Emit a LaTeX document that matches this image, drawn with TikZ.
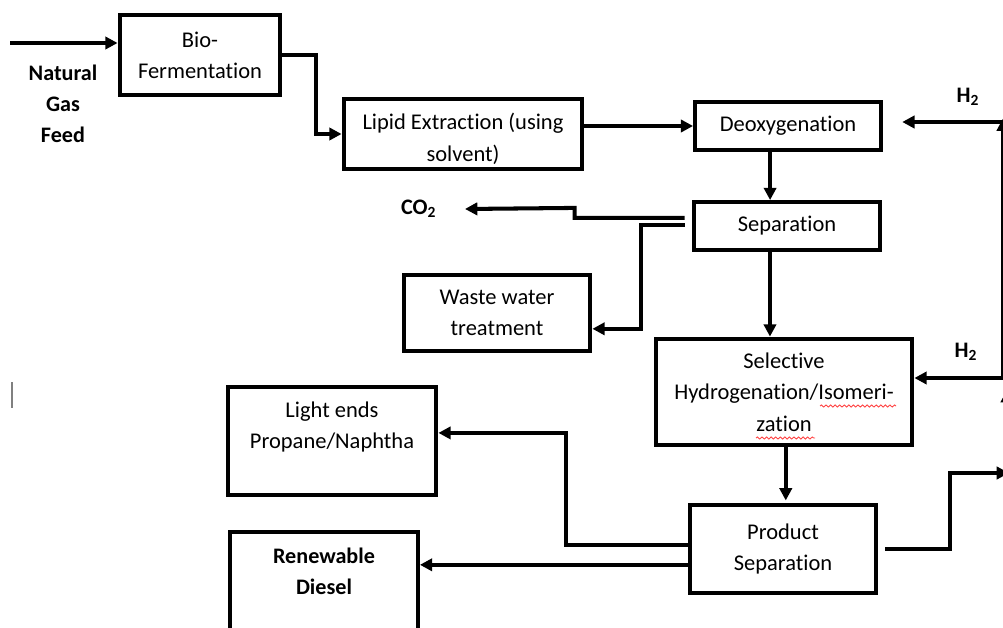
\documentclass[tikz,border=0pt]{standalone}
\usepackage{fontspec}
\setmainfont[Ligatures=NoCommon]{Carlito}
\usetikzlibrary{arrows.meta,positioning,decorations.pathmorphing}

\tikzset{
  stage/.style={draw, line width=2.5pt, align=center, inner sep=2pt,
    font=\fontsize{12.8}{17.8}\selectfont},
  flow/.style={line width=2.3pt, -{Triangle[length=7pt,width=7pt]}},
  tag/.style={align=center, inner sep=1pt, font=\bfseries\fontsize{12.6}{17.8}\selectfont},
  squiggle/.style={red!75, line width=0.5pt, decorate,
    decoration={snake, segment length=2.6pt, amplitude=0.6pt}}
}

\begin{document}
\begin{tikzpicture}[x=0.02cm, y=-0.02cm]
  \useasboundingbox (0,0) rectangle (1003,628);
  \clip (0,0) rectangle (1003,628);

  % process blocks
  \node[stage, minimum width=3.21cm, minimum height=1.61cm] (bio) at (200,55) {Bio-\\Fermentation};
  \node[stage, minimum width=4.77cm, minimum height=1.41cm] (lipid) at (463,134) {\rule{0pt}{15pt}Lipid Extraction (using\\solvent)};
  \node[stage, minimum width=3.71cm, minimum height=0.95cm] (deox) at (788,126) {Deoxygenation};
  \node[stage, minimum width=3.73cm, minimum height=0.95cm] (sep) at (787,226) {Separation};
  \node[stage, minimum width=3.73cm, minimum height=1.51cm] (waste) at (497,313) {Waste water\\treatment};
  \node[stage, minimum width=5.13cm, minimum height=2.13cm] (sel) at (784,392) {Selective\\Hydrogenation/Isomeri-\\zation};
  \node[stage, minimum width=3.73cm, minimum height=1.75cm] (prod) at (783,549) {Product\\Separation};
  \node[stage, minimum width=4.17cm, minimum height=2.15cm] (light) at (332,441) {Light ends\\Propane/Naphtha\\\mbox{}};
  \node[stage, minimum width=3.75cm, minimum height=2.2cm, font=\bfseries\fontsize{12.6}{17.8}\selectfont] (diesel) at (324,587) {Renewable\\Diesel\\\mbox{}};

  % stream labels
  \node[tag] (feed) at (63,104) {Natural\\Gas\\Feed};
  \node[tag, anchor=east] (co2) at (465,209) {CO\textsubscript{2}\hspace{1.2em}};
  \node[tag] (h2top) at (968,97) {H\textsubscript{2}};
  \node[tag] (h2low) at (966,352) {H\textsubscript{2}};

  % free ends at the right border
  \coordinate (feedin) at (10,43);
  \coordinate (h2a) at (1003,122);
  \coordinate (h2b) at (1003,378);
  \coordinate (h2c) at (1007,470);
  \coordinate (pout) at (1009,473);

  % main line
  \draw[flow] (feedin) -- (feedin -| bio.west);
  \draw[flow] (bio.east) -- ++(34,0) |- (lipid.west);
  \draw[flow] (lipid.east |- deox.west) -- (deox.west);
  \draw[flow] ([xshift=-10.2pt]deox.south) -- ([xshift=-10.2pt]deox.south |- sep.north);
  \draw[flow] ([xshift=-4pt,yshift=4.6pt]sep.west) -- ++(-110,0) -- ++(0,-10) -- (co2.east);
  \draw[flow] ([xshift=-4pt,yshift=0.6pt]sep.west) -- ++(-44,0) |- ([yshift=-9pt]waste.east);
  \draw[flow] ([xshift=-9.7pt]sep.south) -- ([xshift=-9.7pt]sep.south |- sel.north);
  \draw[flow] ([xshift=1pt]sel.south) -- ([xshift=1pt,yshift=1.5pt]sel.south |- prod.north);
  \draw[flow] ([yshift=2.3pt]prod.west) -- ++(-122,0) |- ([yshift=4.6pt]light.east);
  \draw[flow] ([yshift=-9pt]prod.west) coordinate (pd) -- (pd -| diesel.east);
  \draw[flow] ([xshift=4pt]prod.east) -- ++(65,0) |- (pout);

  % hydrogen supply
  \draw[flow] (h2b) -- ([yshift=2pt]h2a);
  \draw[flow] (h2a) -- ([xshift=11pt]deox.east |- h2a);
  \draw[flow] (h2b) -- (sel.east |- h2b);
  \draw[flow] (h2c) -- ++(0,-80);

  % spell-check marks and cursor
  \draw[squiggle] (820,406) -- (896,406);
  \draw[squiggle] (756,438) -- (815,438);
  \draw[gray, line width=0.6pt] (12,382) -- (12,408);
\end{tikzpicture}
\end{document}
